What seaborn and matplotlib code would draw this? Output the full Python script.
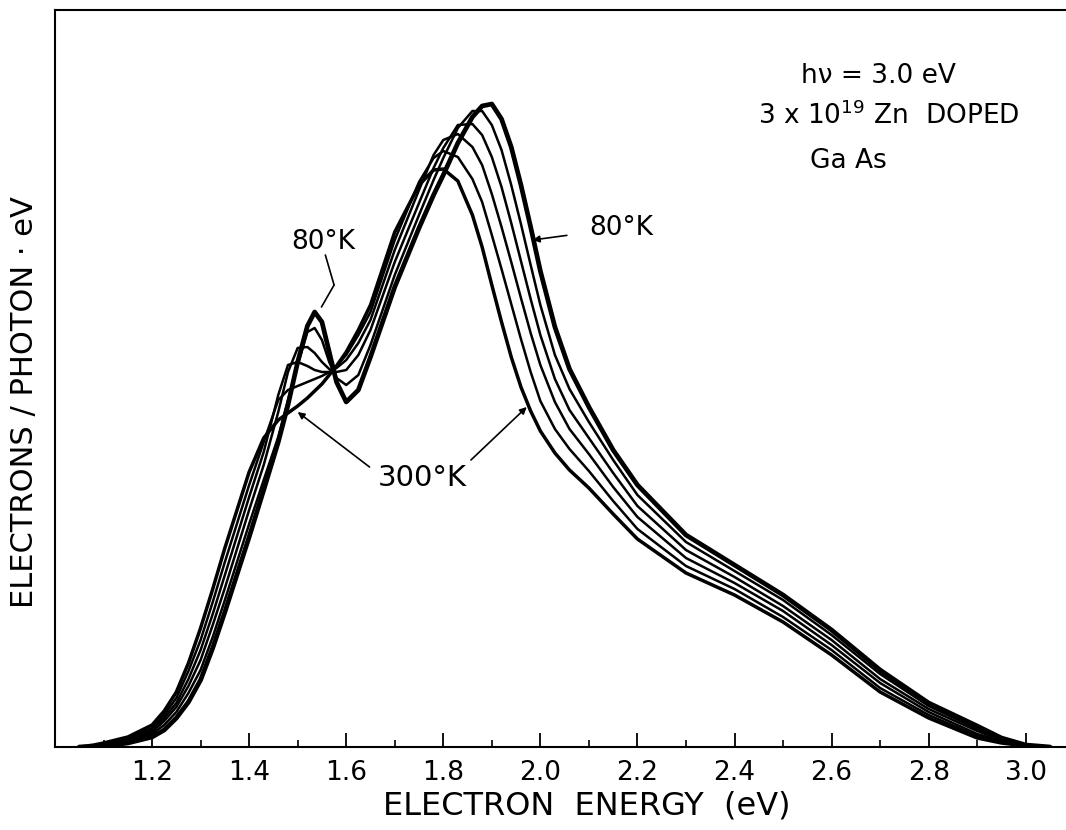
import numpy as np
import pandas as pd
import matplotlib
matplotlib.use("Agg")
import matplotlib.pyplot as plt
import seaborn as sns

# Electron energy (eV) sampling points
energy = [1.05, 1.08, 1.10, 1.15, 1.20, 1.225, 1.25, 1.275, 1.30, 1.325, 1.35, 1.40,
          1.43, 1.46, 1.48, 1.50, 1.52, 1.535, 1.55, 1.565, 1.58, 1.60,
          1.625, 1.65, 1.70, 1.75, 1.78, 1.80, 1.83, 1.86, 1.88, 1.90,
          1.92, 1.94, 1.96, 1.98, 2.00, 2.03, 2.06, 2.10, 2.15, 2.20,
          2.30, 2.40, 2.50, 2.60, 2.70, 2.80, 2.90, 2.95, 3.00, 3.05]

# Electrons / photon . eV (arbitrary units) for each temperature
k80 = [0, 0.5, 1, 4, 10, 17, 29, 45, 67, 99, 135, 210,
       257, 305, 342, 385, 421, 435, 425, 395, 365, 345,
       357, 390, 460, 519, 552, 572, 604, 630, 641, 643,
       628, 600, 562, 520, 476, 420, 378, 340, 297, 262,
       212, 182, 152, 117, 77, 44, 21, 9, 2, 0]
k120 = [0, 1, 1.5, 5, 13, 22, 35, 54, 77, 110, 147, 223,
        267, 310, 347, 382, 415, 419, 407, 385, 369, 362,
        372, 402, 472, 532, 567, 589, 619, 636, 636, 622,
        597, 562, 523, 482, 442, 392, 358, 325, 287, 252,
        205, 176, 147, 112, 73, 41, 18, 8, 1.5, 0]
k160 = [0, 1, 2, 6, 15, 26, 40, 61, 87, 122, 159, 237,
        282, 335, 375, 399, 400, 394, 385, 378, 375, 377,
        392, 417, 485, 544, 579, 599, 622, 623, 612, 590,
        560, 524, 486, 448, 412, 368, 337, 309, 274, 241,
        197, 170, 141, 107, 68, 38, 16, 7, 1.5, 0]
k200 = [0, 1, 2.5, 7, 17, 29, 44, 68, 97, 133, 172, 250,
        295, 352, 382, 385, 381, 377, 375, 375, 379, 387,
        404, 427, 497, 557, 592, 607, 613, 600, 582, 553,
        520, 485, 449, 414, 382, 345, 318, 293, 260, 230,
        189, 164, 136, 102, 64, 35, 13, 6, 1, 0]
k250 = [0, 1.5, 3, 8, 19, 32, 49, 76, 107, 145, 185, 262,
        305, 347, 357, 361, 365, 368, 371, 375, 381, 392,
        412, 435, 507, 565, 589, 596, 590, 568, 545, 512,
        478, 443, 408, 375, 346, 318, 298, 276, 246, 218,
        181, 158, 130, 97, 59, 32, 11, 5, 1, 0]
k300 = [0, 2, 4, 10, 22, 36, 55, 84, 119, 158, 199, 275,
        309, 327, 334, 341, 349, 356, 363, 372, 381, 395,
        417, 442, 515, 562, 577, 578, 566, 532, 500, 462,
        425, 390, 360, 336, 316, 294, 277, 259, 233, 208,
        174, 152, 125, 92, 55, 29, 9, 4, 1, 0]

temperatures = ["80", "120", "160", "200", "250", "300"]
series = [k80, k120, k160, k200, k250, k300]
widths = {"80": 3.4, "120": 1.8, "160": 1.8, "200": 1.8, "250": 1.8, "300": 2.5}

major_ticks = [1.2, 1.4, 1.6, 1.8, 2.0, 2.2, 2.4, 2.6, 2.8, 3.0]
major_labels = ["1.2", "1.4", "1.6", "1.8", "2.0", "2.2", "2.4", "2.6", "2.8", "3.0"]
minor_ticks = [1.1, 1.3, 1.5, 1.7, 1.9, 2.1, 2.3, 2.5, 2.7, 2.9]

df = pd.DataFrame({
    "energy": np.concatenate([energy] * len(series)),
    "yield": np.concatenate(series),
    "T": np.repeat(temperatures, len(energy)),
})

sns.set_theme(style="white")
plt.rcParams["font.family"] = ["DejaVu Sans"]
plt.rcParams["text.color"] = "black"
plt.rcParams["axes.labelcolor"] = "black"
plt.rcParams["xtick.color"] = "black"
plt.rcParams["ytick.color"] = "black"

W, H = 1066, 830
fig = plt.figure(figsize=(W / 100, H / 100), dpi=100)
ax = fig.add_axes([55 / W, 83 / H, 1011 / W, 737 / H])

for T in temperatures:
    sub = df[df["T"] == T]
    sns.lineplot(data=sub, x="energy", y="yield", ax=ax, color="black",
                 lw=widths[T], solid_joinstyle="round", solid_capstyle="round",
                 sort=False, legend=False)

ax.set_xlim(1.0, 3.083)
ax.set_ylim(0, 737)

ax.set_xticks(major_ticks)
ax.set_xticklabels(major_labels)
ax.set_xticks(minor_ticks, minor=True)
ax.set_yticks([])
ax.tick_params(axis="x", which="major", direction="in", length=10, width=1.3,
               labelsize=19, pad=9, colors="black", bottom=True)
ax.tick_params(axis="x", which="minor", direction="in", length=5, width=1.2,
               bottom=True, colors="black")

for side in ["left", "bottom", "top"]:
    ax.spines[side].set_visible(True)
    ax.spines[side].set_color("black")
    ax.spines[side].set_linewidth(1.5)
ax.spines["right"].set_visible(False)

ax.set_xlabel("ELECTRON  ENERGY  (eV)", fontsize=23, va="center", color="black")
ax.xaxis.set_label_coords((587 - 55) / 1011, (747 - 806) / 737)
ax.set_ylabel("ELECTRONS / PHOTON · eV", fontsize=22, va="center", color="black")
ax.yaxis.set_label_coords((25 - 55) / 1011, (747 - 402) / 737)


def fx(px):
    return (px - 55) / 1011


def fy(py):
    return (747 - py) / 737


# Upper-right description
ax.text(fx(878), fy(83), "hν = 3.0 eV", transform=ax.transAxes,
        ha="center", va="baseline", fontsize=19, color="black")
ax.text(fx(889), fy(124), r"3 x 10$^{19}$ Zn  DOPED", transform=ax.transAxes,
        ha="center", va="baseline", fontsize=19, color="black")
ax.text(fx(848), fy(168), "Ga As", transform=ax.transAxes,
        ha="center", va="baseline", fontsize=19, color="black")

# Temperature labels with leader lines
ax.text(1.553, 505, "80°K", ha="center", va="center", fontsize=19, color="black")
ax.annotate("", xy=(1.575, 462), xytext=(1.557, 492),
            arrowprops=dict(arrowstyle="-", lw=1.2, color="black",
                            shrinkA=0, shrinkB=0))
ax.annotate("", xy=(1.549, 440), xytext=(1.575, 462),
            arrowprops=dict(arrowstyle="-", lw=1.2, color="black",
                            shrinkA=0, shrinkB=0))

ax.annotate("80°K", xy=(1.984, 507), xytext=(2.167, 519),
            ha="center", va="center", fontsize=19, color="black",
            arrowprops=dict(arrowstyle="-|>", lw=1.2, color="black",
                            mutation_scale=10, shrinkA=14, shrinkB=0))

ax.text(1.756, 269, "300°K", ha="center", va="center", fontsize=21, color="black")
ax.annotate("", xy=(1.50, 335), xytext=(1.648, 280),
            arrowprops=dict(arrowstyle="-|>", lw=1.2, color="black",
                            mutation_scale=10, shrinkA=0, shrinkB=0))
ax.annotate("", xy=(1.972, 340), xytext=(1.857, 287),
            arrowprops=dict(arrowstyle="-|>", lw=1.2, color="black",
                            mutation_scale=10, shrinkA=0, shrinkB=0))

fig.savefig("out.png", dpi=100, facecolor="white")
